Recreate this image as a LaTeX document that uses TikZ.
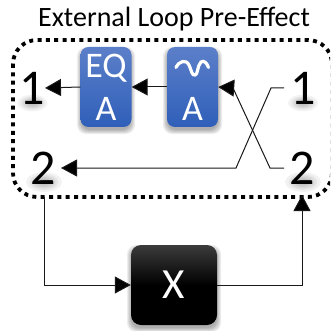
\documentclass[tikz,border=0pt]{standalone}
\usepackage{fontspec}
\setmainfont{Carlito}
\usetikzlibrary{arrows.meta,calc}
\definecolor{boxblueb}{HTML}{2F5FB9}
\definecolor{boxbluet}{HTML}{5C7FC9}
\definecolor{boxdark}{HTML}{3C3C3C}
\pgfdeclareverticalshading{blueshade}{100bp}{color(0bp)=(boxblueb);color(25bp)=(boxblueb);color(75bp)=(boxbluet);color(100bp)=(boxbluet)}
\pgfdeclareverticalshading{blackshade}{100bp}{color(0bp)=(black);color(50bp)=(black);color(75bp)=(boxdark);color(100bp)=(boxdark)}
\tikzset{
  x=1pt,y=-1pt,
  bluebox/.style={rounded corners=8pt,minimum width=51pt,minimum height=80pt,inner sep=0pt,shading=blueshade,text=white,align=center,font=\fontsize{36}{43}\selectfont},
  blackbox/.style={rounded corners=10pt,minimum width=86pt,minimum height=80pt,inner sep=0pt,shading=blackshade,text=white,font=\fontsize{43}{43}\selectfont},
  digit/.style={inner sep=0pt,text=black,font=\fontsize{50}{50}\selectfont},
  wire/.style={line width=1pt,draw=black!90},
  tip/.style={-{Triangle[length=16pt,width=17pt,fill=black]}},
  dots/.style={line width=3.8pt,draw=black,dash pattern=on 4pt off 4.35pt,rounded corners=24pt},
  softdark/.style={fill=black,opacity=0.07,rounded corners=9pt},
  softglow/.style={fill=black,opacity=0.05}
}
\newcommand{\softshadow}[4]{% x1 y1 x2 y2
  \foreach \d in {0,1,2,3,4}{
    \fill[softdark] (#1-\d,#2-\d+4) rectangle (#3+\d,#4+\d+3);
  }}
\newcommand{\glowat}[3]{% x y maxrx
  \foreach \r in {0.35,0.5,0.65,0.8,1}{
    \fill[softglow] (#1,#2) ellipse ({#3*\r} and {#3*\r*0.55});
  }}
\begin{document}
\begin{tikzpicture}
\useasboundingbox (0,0) rectangle (330,331);
\fill[white] (0,0) rectangle (330,331);
\begin{scope}
\clip (0,0) rectangle (330,331);
% soft glyph shadows
\glowat{32.5}{103}{15}
\glowat{44}{182}{18}
\glowat{303}{103}{15}
\glowat{303}{182}{18}
\softshadow{81}{47}{131}{127}
\softshadow{167}{47}{218}{127}
\softshadow{131}{245}{217}{325}

\node[font=\fontsize{28}{28}\selectfont] (title) at (174,19) {External Loop Pre-Effect};
\draw[dots] (13,40) rectangle (332,197);

\node[bluebox] (eq) at (106,87) {\raisebox{-1.5pt}{EQ}\\\raisebox{-1.5pt}{A}};
\node[bluebox] (filt) at (192.5,87) {\phantom{Q}\\\raisebox{-1.5pt}{A}};
\node[blackbox] (x) at (174,285) {X};
\node[digit] (l1) at (32.5,88) {1};
\node[digit] (l2) at (43.5,168) {2};
\node[digit] (r1) at (303,88) {1};
\node[digit] (r2) at (302.5,168) {2};

\draw[white,line width=3.2pt,line cap=round] (176,67.5) .. controls (179,61) and (186,59) .. (189,65) .. controls (192,72) and (192,75.5) .. (195,75) .. controls (198,75) and (197,66) .. (201,62) .. controls (204,60) and (207,63) .. (208.5,67.5);

\coordinate (pin) at (45,88);
\coordinate (bl) at (44,197);
\coordinate (rtip) at (302,195);
\coordinate (c1) at (271,88);
\coordinate (c2) at (236,168);
\coordinate (d1) at (233,88);
\coordinate (d2) at (270,168);
\coordinate (a1) at (284,88);
\coordinate (a2) at (284,168);
\coordinate (ltip) at (61,168);

\draw[wire,tip] (eq.west) -- (pin);
\draw[wire,tip] (filt.west) -- (eq.east);
\draw[wire,tip] (a2) -- (d2) -- (d1) -- (filt.east);
\draw[wire,tip] (a1) -- (c1) -- (c2) -- (ltip);
\draw[wire,tip] (bl) |- (x.west);
\draw[wire,tip] (x.east) -| (rtip);
\end{scope}
\end{tikzpicture}
\end{document}
